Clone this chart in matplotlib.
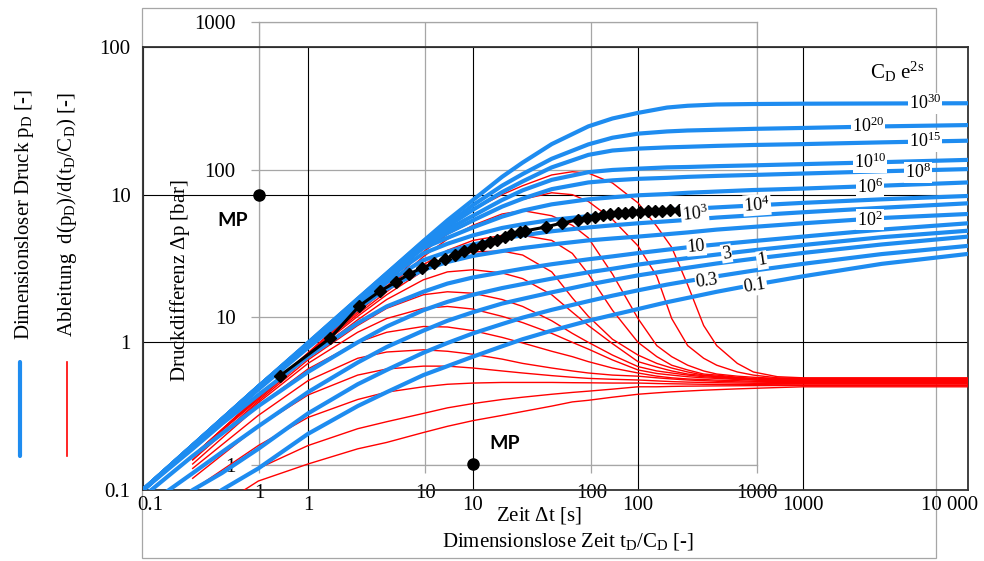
import matplotlib
matplotlib.use("Agg")
import matplotlib.pyplot as plt
import matplotlib.transforms as mtransforms
from matplotlib.lines import Line2D
from matplotlib.patches import Rectangle
from matplotlib.ticker import NullLocator

plt.rcParams['font.family'] = ['Liberation Serif', 'DejaVu Serif']
plt.rcParams['mathtext.fontset'] = 'custom'
plt.rcParams['mathtext.rm'] = 'Liberation Serif'
plt.rcParams['mathtext.it'] = 'Liberation Serif:italic'
plt.rcParams['mathtext.bf'] = 'Liberation Serif:bold'

# ---------------- type curves: dimensionless pressure p_D vs t_D/C_D ----------------
t_dim = [0.1, 0.2, 0.3, 0.5, 1, 2, 3, 5, 7, 10, 15, 20, 30, 50, 70, 100, 150, 200, 300, 500, 1000, 3000, 10000]

pd_1e30 = [0.1, 0.2, 0.3, 0.5, 0.99, 1.97, 2.93, 4.85, 6.7, 9.2, 13.2, 16.5, 22.0, 29.0, 32.8, 35.8, 38.9, 40.0, 40.8, 41.1, 41.3, 41.45, 41.6]
pd_1e20 = [0.1, 0.2, 0.3, 0.5, 0.99, 1.96, 2.92, 4.8, 6.3, 8.5, 11.5, 13.8, 17.5, 21.9, 24.3, 25.9, 26.8, 27.2, 27.5, 27.9, 28.3, 29.0, 29.6]
pd_1e15 = [0.1, 0.2, 0.3, 0.5, 0.98, 1.95, 2.9, 4.72, 6.1, 7.9, 10.4, 12.3, 15.3, 18.6, 19.9, 20.5, 20.9, 21.1, 21.4, 21.7, 22.0, 22.6, 23.2]
pd_1e10 = [0.1, 0.2, 0.3, 0.5, 0.98, 1.93, 2.86, 4.6, 5.8, 7.2, 9.2, 10.7, 12.6, 14.2, 14.7, 15.0, 15.3, 15.4, 15.6, 15.8, 16.1, 16.6, 17.2]
pd_1e8 = [0.1, 0.2, 0.3, 0.5, 0.97, 1.92, 2.84, 4.5, 5.5, 6.7, 8.3, 9.4, 10.9, 12.1, 12.5, 12.8, 13.0, 13.2, 13.4, 13.6, 13.9, 14.4, 14.9]
pd_1e6 = [0.1, 0.2, 0.3, 0.5, 0.97, 1.9, 2.8, 4.35, 5.1, 6.0, 7.1, 7.8, 8.6, 9.3, 9.6, 9.9, 10.1, 10.3, 10.5, 10.75, 11.0, 11.5, 12.1]
pd_1e4 = [0.1, 0.2, 0.3, 0.5, 0.96, 1.86, 2.7, 4.0, 4.65, 5.3, 5.95, 6.3, 6.75, 7.15, 7.4, 7.6, 7.85, 8.0, 8.2, 8.45, 8.8, 9.3, 9.8]
pd_1e3 = [0.1, 0.2, 0.3, 0.49, 0.95, 1.8, 2.55, 3.6, 4.1, 4.6, 5.05, 5.3, 5.65, 6.0, 6.2, 6.4, 6.6, 6.75, 7.0, 7.25, 7.6, 8.15, 8.74]
pd_1e2 = [0.1, 0.2, 0.29, 0.48, 0.92, 1.7, 2.3, 3.1, 3.5, 3.85, 4.15, 4.35, 4.6, 4.9, 5.05, 5.2, 5.4, 5.55, 5.8, 6.05, 6.4, 6.95, 7.4]
pd_10 = [0.1, 0.19, 0.28, 0.44, 0.8, 1.35, 1.75, 2.2, 2.5, 2.75, 2.98, 3.15, 3.38, 3.65, 3.82, 4.02, 4.24, 4.4, 4.6, 4.85, 5.2, 5.8, 6.4]
pd_3 = [0.09, 0.17, 0.24, 0.37, 0.63, 1.0, 1.28, 1.65, 1.88, 2.1, 2.33, 2.48, 2.7, 2.98, 3.15, 3.36, 3.57, 3.72, 3.93, 4.2, 4.56, 5.15, 5.7]
pd_1 = [0.075, 0.13, 0.18, 0.27, 0.46, 0.73, 0.93, 1.2, 1.4, 1.6, 1.83, 1.97, 2.18, 2.46, 2.64, 2.84, 3.05, 3.2, 3.42, 3.68, 4.03, 4.6, 5.2]
pd_03 = [0.055, 0.1, 0.13, 0.19, 0.33, 0.52, 0.65, 0.85, 0.99, 1.15, 1.33, 1.47, 1.66, 1.9, 2.07, 2.25, 2.46, 2.6, 2.8, 3.06, 3.4, 3.96, 4.5]
pd_01 = [0.04, 0.07, 0.1, 0.14, 0.24, 0.37, 0.46, 0.6, 0.69, 0.8, 0.94, 1.05, 1.2, 1.4, 1.53, 1.68, 1.87, 2.0, 2.2, 2.45, 2.8, 3.4, 3.97]

# ---------------- derivative curves t_D/C_D * d(p_D)/d(t_D/C_D) ----------------
t_der = [0.2, 0.5, 1, 2, 3, 5, 7, 10, 15, 20, 30, 40, 50, 70, 100, 130, 160, 200, 250, 300, 400, 500, 700, 1000, 10000]

dd_1e30 = [0.17, 0.43, 0.85, 1.7, 2.5, 4.4, 6.0, 7.9, 10.0, 11.5, 13.6, 14.3, 14.0, 12.0, 8.8, 6.1, 4.4, 2.45, 1.3, 0.95, 0.72, 0.63, 0.585, 0.575, 0.575]
dd_1e20 = [0.17, 0.43, 0.84, 1.65, 2.4, 4.1, 5.4, 6.6, 8.3, 9.3, 10.3, 10.0, 9.0, 6.8, 4.5, 2.8, 1.45, 0.95, 0.78, 0.7, 0.63, 0.6, 0.575, 0.57, 0.57]
dd_1e15 = [0.17, 0.43, 0.83, 1.6, 2.3, 3.8, 5.0, 6.2, 7.4, 7.8, 7.2, 6.2, 5.1, 2.9, 1.45, 0.95, 0.8, 0.7, 0.64, 0.61, 0.59, 0.58, 0.57, 0.565, 0.565]
dd_1e10 = [0.17, 0.42, 0.82, 1.55, 2.2, 3.35, 4.2, 4.9, 5.3, 5.3, 4.9, 4.0, 2.9, 1.65, 1.0, 0.8, 0.7, 0.65, 0.61, 0.6, 0.58, 0.57, 0.565, 0.56, 0.56]
dd_1e8 = [0.17, 0.42, 0.81, 1.5, 2.1, 3.05, 3.7, 4.1, 4.15, 3.9, 3.0, 2.0, 1.5, 1.05, 0.82, 0.72, 0.67, 0.63, 0.6, 0.59, 0.575, 0.565, 0.56, 0.555, 0.555]
dd_1e6 = [0.17, 0.41, 0.79, 1.42, 1.95, 2.65, 3.0, 3.1, 2.95, 2.7, 2.1, 1.6, 1.3, 0.98, 0.74, 0.68, 0.64, 0.61, 0.595, 0.585, 0.57, 0.56, 0.555, 0.55, 0.55]
dd_1e4 = [0.16, 0.4, 0.76, 1.3, 1.7, 2.1, 2.2, 2.15, 1.95, 1.75, 1.4, 1.15, 1.0, 0.82, 0.685, 0.64, 0.62, 0.6, 0.585, 0.578, 0.565, 0.56, 0.55, 0.545, 0.545]
dd_1e3 = [0.16, 0.39, 0.72, 1.17, 1.45, 1.7, 1.75, 1.68, 1.5, 1.36, 1.15, 1.0, 0.9, 0.76, 0.65, 0.615, 0.6, 0.585, 0.575, 0.57, 0.56, 0.555, 0.545, 0.54, 0.54]
dd_1e2 = [0.15, 0.37, 0.66, 1.0, 1.17, 1.28, 1.27, 1.2, 1.08, 0.99, 0.87, 0.8, 0.74, 0.67, 0.62, 0.59, 0.575, 0.565, 0.56, 0.555, 0.55, 0.545, 0.54, 0.535, 0.535]
dd_10 = [0.14, 0.32, 0.55, 0.78, 0.86, 0.89, 0.87, 0.83, 0.77, 0.72, 0.67, 0.64, 0.62, 0.6, 0.59, 0.575, 0.565, 0.556, 0.55, 0.545, 0.54, 0.538, 0.535, 0.53, 0.53]
dd_3 = [0.12, 0.27, 0.44, 0.6, 0.66, 0.69, 0.69, 0.67, 0.64, 0.62, 0.595, 0.58, 0.57, 0.562, 0.556, 0.548, 0.542, 0.538, 0.535, 0.533, 0.53, 0.528, 0.526, 0.525, 0.525]
dd_1 = [0.1, 0.2, 0.31, 0.41, 0.46, 0.5, 0.52, 0.53, 0.535, 0.535, 0.535, 0.533, 0.532, 0.53, 0.53, 0.526, 0.524, 0.522, 0.52, 0.519, 0.518, 0.517, 0.516, 0.515, 0.515]
dd_03 = [0.075, 0.14, 0.2, 0.26, 0.29, 0.33, 0.36, 0.385, 0.41, 0.425, 0.445, 0.458, 0.467, 0.482, 0.5, 0.5, 0.503, 0.505, 0.506, 0.507, 0.508, 0.509, 0.51, 0.51, 0.51]
dd_01 = [0.06, 0.115, 0.15, 0.19, 0.21, 0.245, 0.27, 0.295, 0.32, 0.34, 0.37, 0.395, 0.405, 0.425, 0.445, 0.455, 0.462, 0.468, 0.474, 0.478, 0.484, 0.488, 0.494, 0.5, 0.5]

# curve parameter labels C_D e^2s with their positions (t_D/C_D, p_D)
param_labels = ['10$^{30}$', '10$^{20}$', '10$^{15}$', '10$^{10}$', '10$^{8}$', '10$^{6}$', '10$^{4}$',
                '10$^{3}$', '10$^{2}$', '10', '3', '1', '0.3', '0.1']
label_t = [5480, 2480, 5480, 2550, 4980, 2550, 526, 221, 2550, 226, 344, 565, 262, 512]
label_p = [41.6, 29.2, 23.1, 16.6, 14.2, 11.3, 8.5, 7.4, 6.75, 4.45, 4.0, 3.6, 2.62, 2.4]
label_rot = [0, 0, 0, 0, 0, 0, 4, 6, 0, 5, 9, 9, 8, 9]

# ---------------- measured build-up data ----------------
dt_s = [1.33, 2.67, 4.0, 5.33, 6.67, 8.0, 9.5, 11.3, 13.2, 15.1, 17.1, 19.4, 22, 24.5, 27, 30, 33, 37,
        40, 53, 67, 83, 94, 105, 118, 130, 145, 160, 176, 197, 220, 242, 267, 298, 338]
dp_bar = [4.0, 7.2, 11.9, 15.0, 17.3, 19.6, 21.5, 23.3, 24.8, 26.4, 28.1, 29.4, 30.8, 32.3, 33.3, 34.9,
          36.6, 37.8, 38.4, 40.8, 43.5, 45.6, 47.0, 47.7, 49.3, 50.0, 50.8, 50.8, 51.6, 51.6, 52.4, 52.4,
          52.4, 53.2, 53.2]

# match points (t_D/C_D, p_D)
mp_t = [0.507, 10]
mp_p = [10, 0.149]

# axis ticks
main_xticks = [0.1, 1, 10, 100, 1000, 10000]
main_xlabels = ['0.1', '1', '10', '100', '1000', '10 000']
main_yticks = [0.1, 1, 10, 100]
main_ylabels = ['0.1', '1', '10', '100']
data_ticks = [1, 10, 100, 1000]
data_labels = ['1', '10', '100', '1000']

BLUE = '#1E8CF0'
RED = '#FF0000'
GREY = '#A6A6A6'

blue_curves = [pd_1e30, pd_1e20, pd_1e15, pd_1e10, pd_1e8, pd_1e6, pd_1e4,
               pd_1e3, pd_1e2, pd_10, pd_3, pd_1, pd_03, pd_01]
red_curves = [dd_1e30, dd_1e20, dd_1e15, dd_1e10, dd_1e8, dd_1e6, dd_1e4,
              dd_1e3, dd_1e2, dd_10, dd_3, dd_1, dd_03, dd_01]

W, H = 984, 561
fig = plt.figure(figsize=(W / 100, H / 100), dpi=100)
fig.patch.set_facecolor('white')


def box(x0, y0, x1, y1):
    return [x0 / W, 1 - y1 / H, (x1 - x0) / W, (y1 - y0) / H]


def fpos(px, py):
    return px / W, 1 - py / H


# outer frame of the data overlay
fig.add_artist(Rectangle(fpos(142, 558), (936 - 142) / W, (558 - 8) / H, transform=fig.transFigure,
                         fill=False, ec=GREY, lw=0.9, zorder=-5))

# ---- data axes (seconds / bar), drawn underneath ----
ax2 = fig.add_axes(box(259.3, 22, 757.3, 464.7), zorder=0)
ax2.set_xscale('log')
ax2.set_yscale('log')
ax2.set_xlim(1, 1000)
ax2.set_ylim(1, 1000)
ax2.patch.set_visible(False)
for s in ax2.spines.values():
    s.set_color(GREY)
    s.set_linewidth(0.9)
ax2.set_xticks(data_ticks)
ax2.set_xticklabels(data_labels)
ax2.set_yticks(data_ticks)
ax2.set_yticklabels(data_labels)
ax2.xaxis.set_minor_locator(NullLocator())
ax2.yaxis.set_minor_locator(NullLocator())
ax2.tick_params(axis='both', length=6, width=0.9, color=GREY, direction='out', labelsize=15)
ax2.tick_params(axis='x', pad=8)
ax2.tick_params(axis='y', pad=11)
ax2.grid(True, color=GREY, lw=0.9)
ax2.set_axisbelow(True)

# ---- dimensionless axes ----
ax = fig.add_axes(box(143, 47, 968, 490), zorder=1)
ax.set_xscale('log')
ax.set_yscale('log')
ax.patch.set_visible(False)
ax.set_xticks(main_xticks)
ax.set_xticklabels(main_xlabels)
ax.set_yticks(main_yticks)
ax.set_yticklabels(main_ylabels)
ax.xaxis.set_minor_locator(NullLocator())
ax.yaxis.set_minor_locator(NullLocator())
ax.tick_params(axis='both', length=0, labelsize=15)
ax.tick_params(axis='x', pad=4)
ax.tick_params(axis='y', pad=9)
ax.grid(True, color='black', lw=0.8)
for s in ax.spines.values():
    s.set_color('#333333')
    s.set_linewidth(1.3)

for vals in red_curves:
    ax.plot(t_der, vals, color=RED, lw=1.0, zorder=3)
for vals in blue_curves:
    ax.plot(t_dim, vals, color=BLUE, lw=3.0, zorder=4)

for txt, tx, ty, rot in zip(param_labels, label_t, label_p, label_rot):
    ax.text(tx, ty, txt, fontsize=13, ha='center', va='center', rotation=rot, zorder=8,
            bbox=dict(facecolor='white', edgecolor='none', pad=0.6))

ax.plot(dt_s, dp_bar, '-D', color='black', lw=2.2, ms=6.5, transform=ax2.transData, zorder=6)
ax.plot(mp_t, mp_p, 'o', color='black', ms=8, zorder=7, clip_on=False)

ax.set_xlim(0.1, 10000)
ax.set_ylim(0.1, 100)

# shift outer x tick labels inward a little
labels = ax.get_xticklabels()
labels[0].set_transform(labels[0].get_transform() + mtransforms.ScaledTranslation(0.07, 0, fig.dpi_scale_trans))
labels[-1].set_transform(labels[-1].get_transform() + mtransforms.ScaledTranslation(-0.18, 0, fig.dpi_scale_trans))

mp_font = dict(family=['Lato', 'DejaVu Sans'], weight='bold', fontsize=14)
ax.text(0.351, 6.64, 'MP', ha='center', va='center', zorder=8, **mp_font)
ax.text(15.6, 0.205, 'MP', ha='center', va='center', zorder=8, **mp_font)

ax.text(*fpos(897, 72), r'C$_\mathrm{D}$ e$^\mathrm{2s}$', transform=fig.transFigure,
        fontsize=15, ha='center', va='center')

# axis titles
fig.text(*fpos(568, 541), r'Dimensionslose Zeit t$_\mathrm{D}$/C$_\mathrm{D}$ [-]', fontsize=15,
         ha='center', va='center')
fig.text(*fpos(539, 516), r'Zeit $\Delta$t [s]', fontsize=15, ha='center', va='center')
fig.text(*fpos(180, 281), r'Druckdifferenz $\Delta$p [bar]', fontsize=15, ha='center', va='center',
         rotation=90)
fig.text(*fpos(25, 214), r'Dimensionsloser Druck p$_\mathrm{D}$ [-]', fontsize=15, ha='center',
         va='center', rotation=90)
fig.text(*fpos(67, 215), r'Ableitung  d(p$_\mathrm{D}$)/d(t$_\mathrm{D}$/C$_\mathrm{D}$) [-]',
         fontsize=15, ha='center', va='center', rotation=90)

# legend strokes below the vertical titles
x0, y0 = fpos(20, 362)
x1, y1 = fpos(20, 456)
fig.add_artist(Line2D([x0, x1], [y0, y1], color=BLUE, lw=3.0, transform=fig.transFigure,
                      solid_capstyle='round'))
x0, y0 = fpos(67, 362)
x1, y1 = fpos(67, 456)
fig.add_artist(Line2D([x0, x1], [y0, y1], color=RED, lw=1.2, transform=fig.transFigure))

fig.savefig('out.png', dpi=100, facecolor='white')
